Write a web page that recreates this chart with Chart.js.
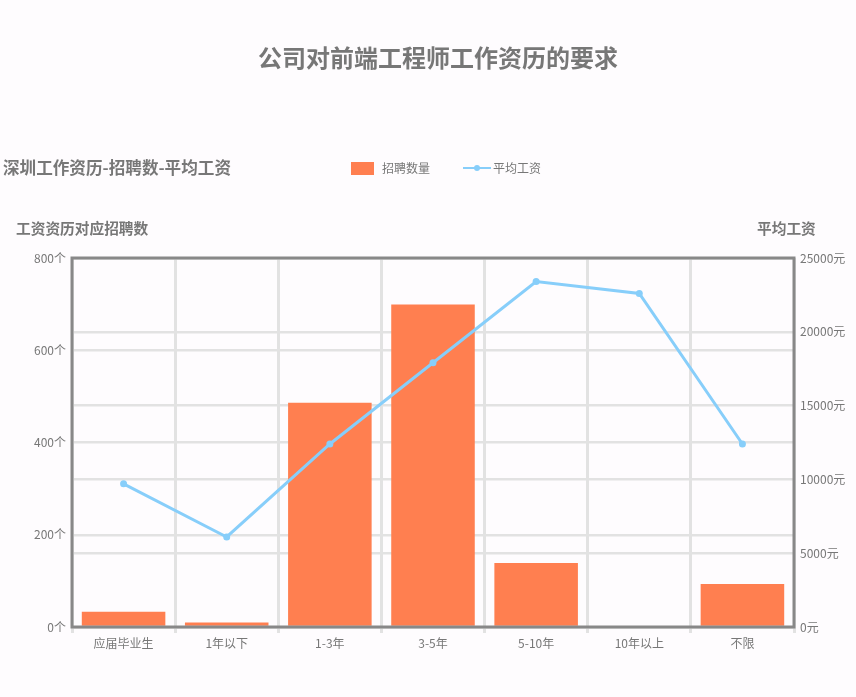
<!DOCTYPE html>
<html>
<head>
<meta charset="utf-8">
<script src="https://cdn.jsdelivr.net/npm/chart.js@4/dist/chart.umd.min.js"></script>
<style>
  html, body { margin: 0; padding: 0; background: #fefcfe; }
  #wrap { width: 856px; height: 697px; position: relative; }
</style>
</head>
<body>
<div id="wrap"><canvas id="myChart"></canvas></div>
<script>
// 数据
const categories = ['应届毕业生', '1年以下', '1-3年', '3-5年', '5-10年', '10年以上', '不限'];
const jobCounts = [33, 10, 486, 699, 139, 0, 93];
const avgSalary = [9700, 6100, 12400, 17900, 23400, 22600, 12400];
const countTicks = [0, 200, 400, 600, 800];
const salaryTicks = [0, 5000, 10000, 15000, 20000, 25000];

const FONT = "'Noto Sans CJK SC', 'Noto Sans', sans-serif";
const TEXT = '#777';
const BAR = '#FF7F50';
const LINE = '#87CEFA';

// 标题、图例、坐标轴名称和外框
const decorations = {
    id: 'decorations',
    beforeDraw(chart) {
        const ctx = chart.ctx;
        ctx.save();
        ctx.fillStyle = '#fefcfe';
        ctx.fillRect(0, 0, chart.width, chart.height);
        ctx.restore();
    },
    afterDraw(chart) {
        const ctx = chart.ctx;
        const a = chart.chartArea;
        ctx.save();
        ctx.textBaseline = 'middle';
        ctx.fillStyle = TEXT;

        ctx.textAlign = 'center';
        ctx.font = 'bold 24px ' + FONT;
        ctx.fillText('公司对前端工程师工作资历的要求', 438, 58);

        ctx.textAlign = 'left';
        ctx.font = 'bold 16.6px ' + FONT;
        ctx.fillText('深圳工作资历-招聘数-平均工资', 3, 168);

        ctx.font = 'bold 14.7px ' + FONT;
        ctx.fillText('工资资历对应招聘数', 16, 228);
        ctx.fillText('平均工资', 757, 228);

        // 图例
        ctx.fillStyle = BAR;
        ctx.fillRect(351, 162, 23, 13);
        ctx.fillStyle = TEXT;
        ctx.font = '12px ' + FONT;
        ctx.fillText('招聘数量', 382, 168);

        ctx.strokeStyle = LINE;
        ctx.lineWidth = 2;
        ctx.beginPath();
        ctx.moveTo(463, 168);
        ctx.lineTo(491, 168);
        ctx.stroke();
        ctx.fillStyle = LINE;
        ctx.beginPath();
        ctx.arc(477, 168, 3, 0, Math.PI * 2);
        ctx.fill();
        ctx.fillStyle = TEXT;
        ctx.fillText('平均工资', 493, 168);

        // 外框
        ctx.strokeStyle = '#888';
        ctx.lineWidth = 3;
        ctx.strokeRect(a.left, a.top, a.right - a.left, a.bottom - a.top);
        ctx.restore();
    }
};

new Chart('myChart', {
    data: {
        labels: categories,
        datasets: [{
            type: 'line',
            label: '平均工资',
            data: avgSalary,
            yAxisID: 'y1',
            borderColor: LINE,
            backgroundColor: LINE,
            borderWidth: 3,
            pointRadius: 3.5,
            pointBorderWidth: 0,
            tension: 0,
            order: 0
        }, {
            type: 'bar',
            label: '招聘数量',
            data: jobCounts,
            yAxisID: 'y',
            backgroundColor: BAR,
            categoryPercentage: 1,
            barPercentage: 0.81,
            order: 1
        }]
    },
    options: {
        responsive: true,
        maintainAspectRatio: false,
        animation: false,
        layout: { padding: { top: 258, left: 0, right: 0, bottom: 0 } },
        plugins: {
            legend: { display: false },
            title: { display: false },
            tooltip: { enabled: false }
        },
        scales: {
            x: {
                offset: true,
                border: { display: false },
                grid: { offset: true, color: '#e2e2e2', lineWidth: 3, drawTicks: true, tickLength: 6 },
                ticks: { color: TEXT, font: { family: FONT, size: 12 }, padding: 3, maxRotation: 0 },
                afterFit(scale) { scale.height = 70; }
            },
            y: {
                position: 'left',
                min: 0,
                max: countTicks[countTicks.length - 1],
                border: { display: false },
                grid: { color: '#e2e2e2', lineWidth: 2.5, drawTicks: false },
                afterBuildTicks(scale) { scale.ticks = countTicks.map(v => ({ value: v })); },
                ticks: {
                    color: TEXT,
                    font: { family: FONT, size: 12 },
                    padding: 6,
                    callback: v => v + '个'
                },
                afterFit(scale) { scale.width = 72; }
            },
            y1: {
                position: 'right',
                min: 0,
                max: salaryTicks[salaryTicks.length - 1],
                border: { display: false },
                grid: { color: '#e2e2e2', lineWidth: 2.5, drawTicks: false },
                afterBuildTicks(scale) { scale.ticks = salaryTicks.map(v => ({ value: v })); },
                ticks: {
                    color: TEXT,
                    font: { family: FONT, size: 12 },
                    padding: 6,
                    callback: v => v + '元'
                },
                afterFit(scale) { scale.width = 62; }
            }
        }
    },
    plugins: [decorations]
});
</script>
</body>
</html>
